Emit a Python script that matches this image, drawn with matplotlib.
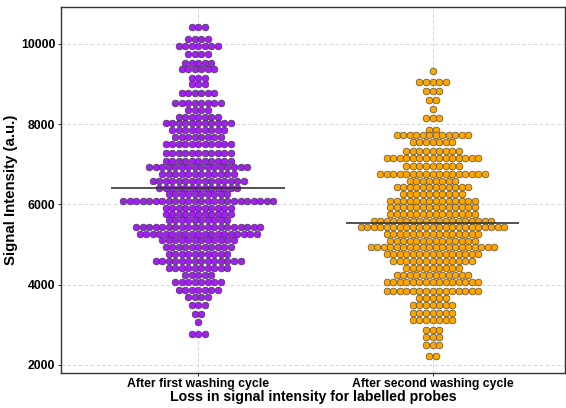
import numpy as np
import matplotlib
matplotlib.use("Agg")
import matplotlib.pyplot as plt

plt.rcParams['font.family'] = ['Liberation Sans', 'DejaVu Sans']

groups = ['After first washing cycle', 'After second washing cycle']
colors = ['#A020F0', '#FFA500']

# dot-plot rows: bin value and number of dots in that row
first_vals = [10432, 10118, 9958, 9758, 9532, 9368, 9142, 9000, 8782, 8525,
              8358, 8168, 8018, 7850, 7682, 7500, 7268, 7092, 6925, 6758,
              6582, 6408, 6250, 6075, 5908, 5750, 5600, 5432, 5268, 5100,
              4932, 4768, 4592, 4408, 4242, 4075, 3875, 3700, 3492, 3258,
              3075, 2775]
first_counts = [3, 4, 7, 4, 5, 6, 3, 3, 6, 8,
                4, 7, 11, 9, 8, 11, 11, 11, 16, 12,
                15, 13, 10, 24, 11, 11, 10, 20, 19, 12,
                11, 10, 14, 10, 5, 8, 7, 4, 3, 2,
                1, 3]

second_vals = [9325, 9050, 8818, 8592, 8382, 8158, 7850, 7718, 7558, 7332,
               7150, 6968, 6768, 6582, 6432, 6258, 6092, 5925, 5758, 5592,
               5425, 5258, 5092, 4932, 4768, 4592, 4418, 4232, 4068, 3850,
               3658, 3492, 3300, 3108, 2875, 2700, 2492, 2225]
second_counts = [1, 5, 3, 2, 1, 3, 2, 12, 7, 9,
                 15, 9, 17, 8, 12, 10, 14, 14, 14, 19,
                 23, 15, 14, 20, 15, 13, 9, 12, 15, 15,
                 5, 7, 7, 7, 3, 3, 3, 2]

fig = plt.figure(figsize=(5.66, 4.08), dpi=100)
ax = fig.add_axes([0.1075, 0.086, 0.891, 0.897])

step = 0.0278  # horizontal spacing of dots, in category units
for k, (vals, counts) in enumerate([(first_vals, first_counts),
                                    (second_vals, second_counts)]):
    xs, ys = [], []
    for v, n in zip(vals, counts):
        for i in range(n):
            xs.append(k + 1 + (i - (n - 1) / 2) * step)
            ys.append(v)
    ax.scatter(xs, ys, s=24, color=colors[k], edgecolor='#333333',
               linewidth=0.4, zorder=3)
    m = np.mean(ys)
    ax.hlines(m, k + 1 - 0.37, k + 1 + 0.37, color='#333333', linewidth=1.2, zorder=4)

ax.set_xlim(0.414, 2.566)
ax.set_ylim(1800, 10920)
ax.set_xticks([1, 2])
ax.set_xticklabels(groups, fontsize=8.8, fontweight='bold')
ax.set_yticks([2000, 4000, 6000, 8000, 10000])
ax.tick_params(axis='y', labelsize=8.8)
for lab in ax.get_yticklabels():
    lab.set_fontweight('bold')
ax.tick_params(length=2.5, width=0.6, colors='black', pad=1.5)
ax.grid(True, linestyle=(0, (4, 3)), color='#cccccc', linewidth=0.6, zorder=0)
ax.set_axisbelow(True)
for sp in ax.spines.values():
    sp.set_linewidth(1.0)
    sp.set_color('#333333')

ax.set_xlabel('Loss in signal intensity for labelled probes', fontsize=10.2,
              fontweight='bold', labelpad=0)
ax.set_ylabel('Signal Intensity (a.u.)', fontsize=10.8, fontweight='bold', labelpad=2)

fig.savefig('out.png', dpi=100)
